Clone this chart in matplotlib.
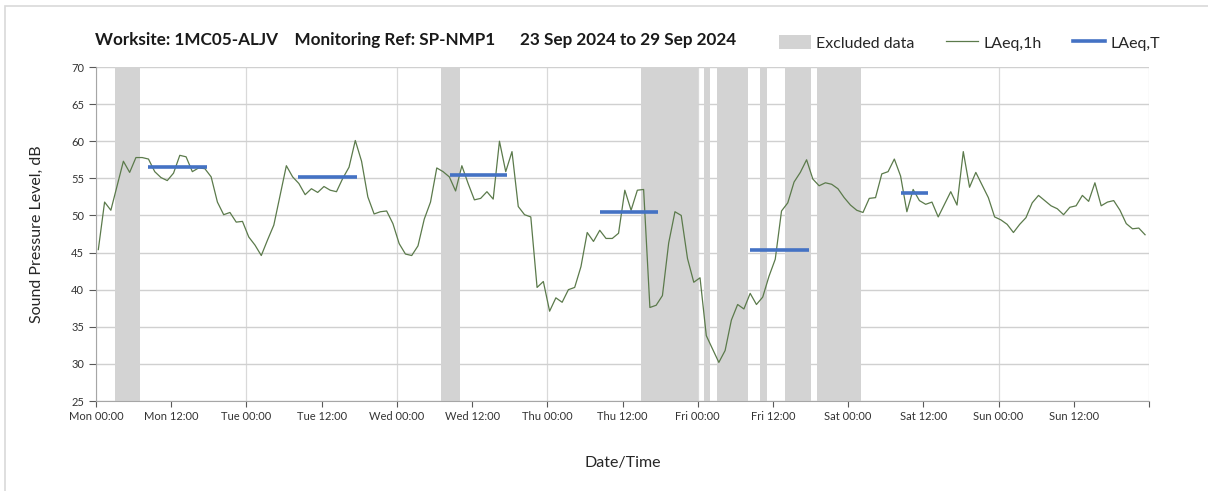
import matplotlib.pyplot as plt
from matplotlib.patches import Patch, Rectangle
from matplotlib.lines import Line2D

# hourly LAeq,1h values, Mon 00:00 .. Sun 23:00
laeq_1h = [
    45.4, 51.8, 50.7, 54.0, 57.3, 55.8, 57.8, 57.8, 57.6, 55.9,
    55.1, 54.7, 55.7, 58.1, 57.9, 55.9, 56.4, 56.3, 55.2, 51.8,
    50.1, 50.4, 49.1, 49.2, 47.1, 46.0, 44.6, 46.7, 48.7, 52.7,
    56.7, 55.2, 54.3, 52.8, 53.6, 53.1, 53.9, 53.4, 53.2, 55.0,
    56.5, 60.1, 57.3, 52.5, 50.2, 50.5, 50.6, 48.9, 46.2, 44.8,
    44.6, 45.9, 49.5, 51.8, 56.4, 55.9, 55.2, 53.3, 56.7, 54.3,
    52.1, 52.3, 53.2, 52.2, 60.0, 55.9, 58.6, 51.2, 50.1, 49.8,
    40.3, 41.1, 37.1, 38.9, 38.3, 40.0, 40.3, 43.1, 47.7, 46.5,
    48.0, 46.9, 46.9, 47.6, 53.4, 50.7, 53.4, 53.5, 37.6, 37.9,
    39.2, 46.3, 50.5, 50.0, 44.2, 41.0, 41.6, 33.8, 32.0, 30.2,
    31.8, 35.9, 38.0, 37.4, 39.5, 38.0, 39.0, 41.8, 44.1, 50.6,
    51.7, 54.5, 55.8, 57.5, 54.9, 54.0, 54.4, 54.2, 53.6, 52.4,
    51.4, 50.7, 50.4, 52.3, 52.4, 55.6, 55.9, 57.6, 55.3, 50.5,
    53.5, 52.0, 51.5, 51.8, 49.8, 51.5, 53.2, 51.4, 58.6, 53.8,
    55.8, 54.1, 52.4, 49.8, 49.4, 48.8, 47.7, 48.8, 49.7, 51.7,
    52.7, 52.0, 51.3, 50.9, 50.1, 51.1, 51.3, 52.7, 51.9, 54.4,
    51.3, 51.8, 52.0, 50.7, 48.9, 48.2, 48.3, 47.4,
]
hours = [i + 0.37 for i in range(len(laeq_1h))]

# excluded periods (hours from Mon 00:00)
excl_start = [3, 55, 87, 97, 99, 106, 110, 115]
excl_end = [7, 58, 96, 98, 104, 107, 114, 122]

# LAeq,T periods
period_start = [8.3, 32.3, 56.4, 80.4, 104.4, 128.5]
period_end = [17.7, 41.6, 65.6, 89.7, 113.7, 132.7]
laeq_t = [56.5, 55.2, 55.5, 50.5, 45.4, 53.0]

tick_hours = list(range(0, 169, 12))
tick_labels = ['Mon 00:00', 'Mon 12:00', 'Tue 00:00', 'Tue 12:00', 'Wed 00:00',
               'Wed 12:00', 'Thu 00:00', 'Thu 12:00', 'Fri 00:00', 'Fri 12:00',
               'Sat 00:00', 'Sat 12:00', 'Sun 00:00', 'Sun 12:00', '']

plt.rcParams['font.family'] = ['Lato', 'DejaVu Sans']

fig = plt.figure(figsize=(12.08, 4.91), dpi=100)
fig.patches.append(Rectangle((5 / 1208, -0.1), 1.2, 1.1 - 6 / 491, transform=fig.transFigure,
                             fill=False, edgecolor='#d9d9d9', linewidth=1.2))
ax = fig.add_axes([96 / 1208, 1 - 401 / 491, 1053 / 1208, 334 / 491])

for s, e in zip(excl_start, excl_end):
    ax.axvspan(s, e, color='#d3d3d3', linewidth=0, zorder=1)

ax.plot(hours, laeq_1h, color='#5b7a4b', linewidth=0.9, zorder=3)
for s, e, v in zip(period_start, period_end, laeq_t):
    ax.plot([s, e], [v, v], color='#4472c4', linewidth=2.6, solid_capstyle='butt', zorder=4)

ax.set_xlim(0, 168)
ax.set_ylim(25, 70)
ax.set_yticks(range(25, 71, 5))
ax.set_xticks(tick_hours)
ax.set_xticklabels(tick_labels)
ax.tick_params(axis='both', labelsize=8, colors='#595959', length=4, width=0.8)
ax.tick_params(axis='x', labelcolor='#333333')
ax.tick_params(axis='y', labelcolor='#333333', length=5)

ax.grid(axis='y', color='#d0d0d0', linewidth=1.0, zorder=0)
for d in range(0, 169, 24):
    ax.axvline(d, color='#d9d9d9', linewidth=0.9, zorder=0)
ax.set_axisbelow(True)

for side in ['top', 'right']:
    ax.spines[side].set_visible(False)
ax.spines['left'].set_color('#a6a6a6')
ax.spines['bottom'].set_color('#a6a6a6')

ax.set_xlabel('Date/Time', fontsize=11.5, color='#262626', labelpad=24)
ax.set_ylabel('Sound Pressure Level, dB', fontsize=11.5, color='#262626', labelpad=20)

fig.text(95 / 1208, 1 - 40 / 491,
         'Worksite: 1MC05-ALJV    Monitoring Ref: SP-NMP1      23 Sep 2024 to 29 Sep 2024',
         fontsize=12.3, fontweight='bold', va='center', ha='left', color='#1a1a1a')

handles = [Patch(facecolor='#d3d3d3', edgecolor='none'),
           Line2D([0], [0], color='#5b7a4b', linewidth=0.9),
           Line2D([0], [0], color='#4472c4', linewidth=2.6)]
fig.legend(handles, ['Excluded data', 'LAeq,1h', 'LAeq,T'], ncol=3, frameon=False,
           loc='center right', bbox_to_anchor=(1174 / 1208, 1 - 43 / 491),
           fontsize=11.5, handlelength=2.0, handleheight=0.9, columnspacing=2.0,
           handletextpad=0.3, labelcolor='#262626')

fig.savefig('out.png', dpi=100)
